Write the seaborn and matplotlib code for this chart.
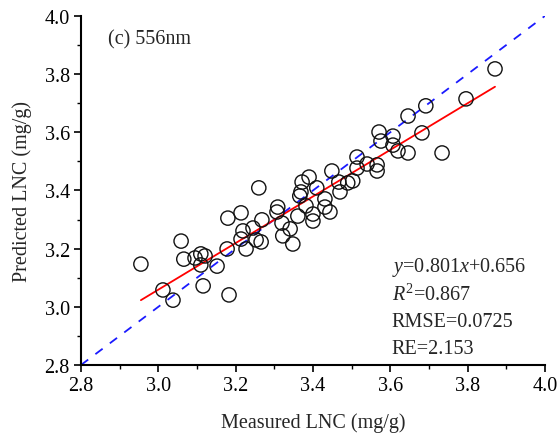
import numpy as np
import pandas as pd
import matplotlib
matplotlib.use("Agg")
import matplotlib.pyplot as plt
from matplotlib.ticker import MultipleLocator
import seaborn as sns

measured = [3.871, 3.796, 3.692, 3.646, 3.682, 3.646, 3.734, 3.571, 3.576, 3.607,
            3.607, 3.620, 3.514, 3.540, 3.566, 3.566, 3.449, 3.514, 3.503, 3.490,
            3.467, 3.470, 3.410, 3.390, 3.372, 3.366, 3.382, 3.431, 3.431, 3.444,
            3.400, 3.400, 3.361, 3.260, 3.309, 3.307, 3.320, 3.341, 3.322, 3.348,
            3.268, 3.214, 3.180, 3.219, 3.245, 3.214, 3.253, 3.266, 3.227, 3.178,
            3.059, 3.066, 3.095, 3.110, 3.121, 3.110, 3.152, 2.955, 3.012, 3.038,
            3.116, 3.183, 3.369]
predicted = [3.818, 3.715, 3.691, 3.656, 3.598, 3.529, 3.529, 3.601, 3.570, 3.587,
             3.556, 3.536, 3.515, 3.491, 3.488, 3.467, 3.467, 3.477, 3.433, 3.426,
             3.429, 3.395, 3.409, 3.446, 3.429, 3.381, 3.347, 3.371, 3.343, 3.326,
             3.319, 3.295, 3.312, 3.409, 3.343, 3.326, 3.288, 3.268, 3.244, 3.216,
             3.299, 3.323, 3.305, 3.261, 3.271, 3.233, 3.230, 3.223, 3.199, 3.199,
             3.226, 3.164, 3.168, 3.182, 3.175, 3.144, 3.140, 3.147, 3.058, 3.023,
             3.072, 3.041, 3.395]

slope = 0.801
intercept = 0.656
fit_x = [min(measured), max(measured)]
fit_y = [slope * v + intercept for v in fit_x]
one_x = [2.8, 4.0]
one_y = [2.8, 4.0]

x_ticks = [2.8, 3.0, 3.2, 3.4, 3.6, 3.8, 4.0]
y_ticks = [2.8, 3.0, 3.2, 3.4, 3.6, 3.8, 4.0]
stats_lines = [r"$y$=0.801$x$+0.656", r"$R^2$=0.867", "RMSE=0.0725", "RE=2.153"]

sns.set_theme(style="ticks")
plt.rcParams['font.family'] = ['Liberation Serif', 'DejaVu Serif']
plt.rcParams['mathtext.fontset'] = 'custom'
plt.rcParams['mathtext.rm'] = 'Liberation Serif'
plt.rcParams['mathtext.it'] = 'Liberation Serif:italic'

FS = 14.5

fig = plt.figure(figsize=(5.6, 4.35), dpi=100)
ax = fig.add_axes([0.1446, 0.1586, 0.8284, 0.8024])

df = pd.DataFrame({"Measured": measured, "Predicted": predicted})
sns.lineplot(x=one_x, y=one_y, ax=ax, color="#1a1aff", linestyle=(0, (5, 5)), lw=1.3, zorder=1)
sns.scatterplot(data=df, x="Measured", y="Predicted", ax=ax, s=105, facecolor="none",
                edgecolor="#111111", linewidth=1.0, zorder=3)
sns.lineplot(x=fit_x, y=fit_y, ax=ax, color="red", lw=1.3, zorder=2)

ax.set_xlim(2.8, 4.0)
ax.set_ylim(2.8, 4.0)
ax.set_xticks(x_ticks)
ax.set_yticks(y_ticks)
ax.set_xticklabels([f"{v:.1f}" for v in x_ticks])
ax.set_yticklabels([f"{v:.1f}" for v in y_ticks])
ax.xaxis.set_minor_locator(MultipleLocator(0.1))
ax.yaxis.set_minor_locator(MultipleLocator(0.1))
ax.tick_params(which="major", direction="out", length=5, width=1.2, labelsize=FS, colors="black", pad=3)
ax.tick_params(which="minor", direction="out", length=3, width=1.0, colors="black")
for side in ["top", "right"]:
    ax.spines[side].set_visible(False)
for side in ["left", "bottom"]:
    ax.spines[side].set_linewidth(1.5)
    ax.spines[side].set_color("black")

ax.set_xlabel("Measured LNC (mg/g)", fontsize=FS, labelpad=12)
ax.set_ylabel("Predicted LNC (mg/g)", fontsize=FS, labelpad=9)

ax.text(2.87, 3.921, "(c) 556nm", fontsize=FS, va="center", ha="left")
ys = [3.137, 3.043, 2.950, 2.857]
for t, yy in zip(stats_lines, ys):
    ax.text(3.604, yy, t, fontsize=FS, va="center", ha="left")

fig.savefig("out.png", dpi=100)
